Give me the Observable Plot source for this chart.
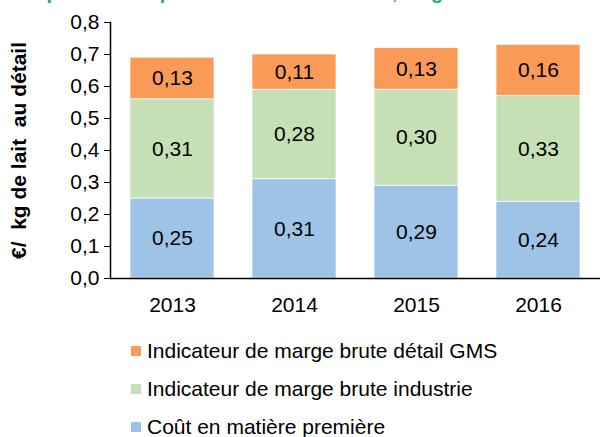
<!DOCTYPE html>
<html>
<head>
<meta charset="utf-8">
<script src="https://cdn.jsdelivr.net/npm/d3@7"></script>
<script src="https://cdn.jsdelivr.net/npm/@observablehq/plot@0.6"></script>
<style>
  html, body { margin: 0; padding: 0; background: #fff; }
  body { width: 600px; height: 437px; position: relative; overflow: hidden; font-family: "Liberation Sans", Arial, sans-serif; }
  #title { position: absolute; left: 0; top: 0; width: 600px; height: 4px; overflow: hidden; z-index: 2; }
  #title span { position: absolute; left: 2px; top: -18px; line-height: 20px; font-size: 20px; font-weight: bold; color: #3AA567; white-space: nowrap; }
  #chart { position: absolute; left: 0; top: 0; }
  #chart svg text { font-family: "Liberation Sans", Arial, sans-serif; }
  #chart svg [aria-label="y-axis label"] text { font-weight: bold; font-size: 21px; white-space: pre; }
  #legend { position: absolute; left: 131px; top: 340px; }
  .item { position: absolute; left: 0; height: 22px; display: flex; align-items: center; white-space: nowrap; font-size: 21px; color: #000; }
  .sw { width: 10px; height: 10px; margin-right: 6px; }
</style>
</head>
<body>
<div id="title"><span>Composition du prix au détail du lait UHT, €/kg</span></div>
<div id="chart"></div>
<div id="legend"></div>
<script>
const years = ["2013", "2014", "2015", "2016"];
const seriesNames = ["Coût en matière première", "Indicateur de marge brute industrie", "Indicateur de marge brute détail GMS"];
const coutMatiere = [0.25, 0.31, 0.29, 0.24];
const margeIndustrie = [0.31, 0.28, 0.30, 0.33];
const margeGMS = [0.13, 0.11, 0.13, 0.16];
const colors = ["#9DC3E6", "#C5E0B4", "#F99B57"];
const yTicks = [0, 0.1, 0.2, 0.3, 0.4, 0.5, 0.6, 0.7, 0.8];
const yLabel = "€/  kg de lait  au détail";

const seriesValues = [coutMatiere, margeIndustrie, margeGMS];
const data = [];
seriesNames.forEach((s, i) => years.forEach((y, j) => data.push({year: y, series: s, value: seriesValues[i][j]})));

const fmt = (v, d) => v.toFixed(d).replace(".", ",");

const chart = Plot.plot({
  width: 600,
  height: 318,
  marginTop: 22,
  marginBottom: 40,
  marginLeft: 110,
  marginRight: 0,
  style: {fontSize: "21px", fontFamily: "Liberation Sans, Arial, sans-serif", color: "#000", background: "transparent"},
  x: {domain: years, paddingInner: 0.315, paddingOuter: 0.1575, label: null},
  y: {domain: [0, 0.8], label: null},
  color: {domain: seriesNames, range: colors},
  marks: [
    Plot.barY(data, Plot.stackY({x: "year", y: "value", z: "series", fill: "series", stroke: "white", strokeWidth: 0.7})),
    Plot.text(data, Plot.stackY({x: "year", y: "value", z: "series", text: d => fmt(d.value, 2), fontSize: 21, fill: "#000"})),
    Plot.axisY({ticks: yTicks, tickFormat: d => fmt(d, 1), tickSize: 6, tickPadding: 5, fontSize: 21, label: yLabel, labelAnchor: "center", labelOffset: 99, labelArrow: "none"}),
    Plot.axisX({tickSize: 0, tickPadding: 19, fontSize: 21, label: null}),
    Plot.frame({anchor: "left", stroke: "#000", strokeWidth: 1.5}),
    Plot.ruleY([0], {stroke: "#000", strokeWidth: 1.5})
  ]
});
document.getElementById("chart").appendChild(chart);

// legend (top to bottom: GMS, industrie, matière)
const legend = document.getElementById("legend");
const order = [2, 1, 0];
order.forEach((k, r) => {
  const it = document.createElement("div");
  it.className = "item";
  it.style.top = (r * 38) + "px";
  const sw = document.createElement("div");
  sw.className = "sw";
  sw.style.background = colors[k];
  it.appendChild(sw);
  const t = document.createElement("span");
  t.textContent = seriesNames[k];
  it.appendChild(t);
  legend.appendChild(it);
});
</script>
</body>
</html>
